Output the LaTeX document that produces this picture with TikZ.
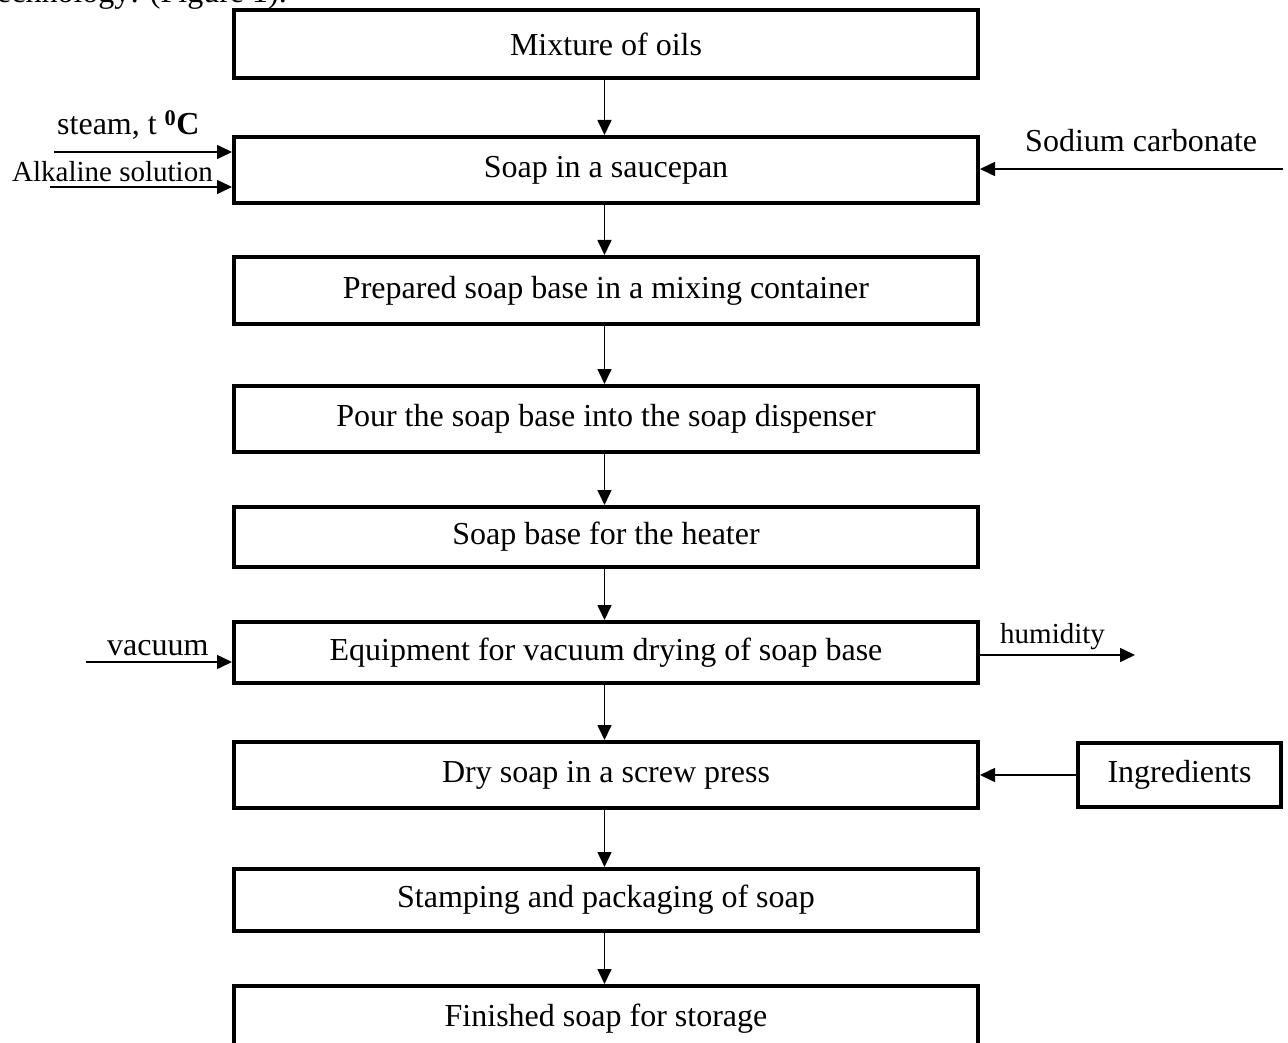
\documentclass[tikz,border=0pt]{standalone}
\usepackage{fontspec}
\setmainfont{Liberation Serif}
\usetikzlibrary{arrows.meta}
\begin{document}
\begin{tikzpicture}[x=1pt,y=-1pt,
  box/.style={draw, line width=4pt, minimum width=744pt, inner sep=0pt, font=\fontsize{32}{36}\selectfont},
  arr/.style={line width=1.6pt, -{Triangle[length=15pt,width=14pt]}},
  lbl/.style={inner sep=0pt, anchor=base west, font=\fontsize{32}{36}\selectfont},
  slbl/.style={inner sep=0pt, anchor=base west, font=\fontsize{29}{33}\selectfont}]
\useasboundingbox (0,0) rectangle (1288,1043);
\clip (0,0) rectangle (1288,1043);
% cut-off heading line
\node[lbl, anchor=base east] (head) at (287,3) {technology: (Figure 1).};
% main boxes
\node[box, minimum height=68pt] (b1) at (606,44) {Mixture of oils};
\node[box, minimum height=66pt] (b2) at (606,170) {Soap in a saucepan};
\node[box, minimum height=67pt] (b3) at (606,290.5) {Prepared soap base in a mixing container};
\node[box, minimum height=66pt] (b4) at (606,419) {Pour the soap base into the soap dispenser};
\node[box, minimum height=60pt] (b5) at (606,537) {Soap base for the heater};
\node[box, minimum height=61pt] (b6) at (606,652.5) {Equipment for vacuum drying of soap base};
\node[box, minimum height=66pt] (b7) at (606,775) {Dry soap in a screw press};
\node[box, minimum height=62pt] (b8) at (606,900) {Stamping and packaging of soap};
\node[box, minimum height=66pt] (b9) at (606,1019) {Finished soap for storage};
\node[box, minimum width=203pt, minimum height=64pt] (ing) at (1179.5,775) {Ingredients};
% vertical flow
\foreach \a/\b in {b1/b2,b2/b3,b3/b4,b4/b5,b5/b6,b6/b7,b7/b8,b8/b9}
  \draw[arr] (\a.south -| 604.5,0) -- (\b.north -| 604.5,0);
% side inputs and outputs
\node[lbl] (steam) at (57,135) {steam, t \textsuperscript{\textbf{0}}\textbf{C}};
\node[slbl] (alk) at (12,182) {Alkaline solution};
\coordinate (steamS) at (54,152);
\coordinate (alkS) at (50,187);
\draw[arr] (steamS) -- (steamS -| b2.west);
\draw[arr] (alkS) -- (alkS -| b2.west);
\node[lbl] (soda) at (1025,152) {Sodium carbonate};
\coordinate (sodaS) at (1283,169);
\draw[arr] (sodaS) -- (sodaS -| b2.east);
\node[lbl] (vac) at (107,655) {vacuum};
\coordinate (vacS) at (86,662);
\draw[arr] (vacS) -- (vacS -| b6.west);
\node[slbl] (hum) at (1000,643) {humidity};
\coordinate (humE) at (1135,655);
\draw[arr] (humE -| b6.east) -- (humE);
\draw[arr] (ing.west) -- (ing.west -| b7.east);
\end{tikzpicture}
\end{document}
